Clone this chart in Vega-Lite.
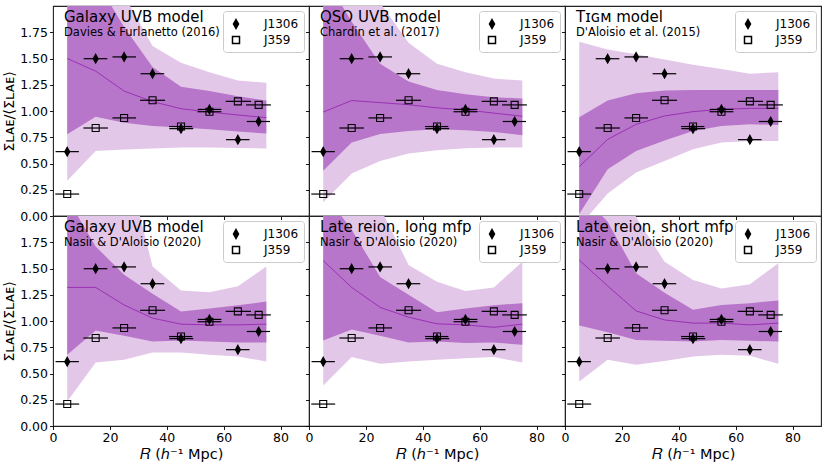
{
  "$schema": "https://vega.github.io/schema/vega-lite/v6.json",
  "background": "white",
  "padding": {"left": 1, "top": 5, "right": 7, "bottom": 3},
  "datasets": {
    "obs": [
      {"q": "J1306", "R": 5, "v": 0.613, "xlo": 0.9, "xhi": 9.1},
      {"q": "J1306", "R": 15, "v": 1.498, "xlo": 10.8, "xhi": 19.1},
      {"q": "J1306", "R": 25, "v": 1.515, "xlo": 20.9, "xhi": 29.2},
      {"q": "J1306", "R": 35, "v": 1.355, "xlo": 30.8, "xhi": 39.1},
      {"q": "J1306", "R": 45, "v": 0.832, "xlo": 40.9, "xhi": 49.3},
      {"q": "J1306", "R": 55, "v": 1.015, "xlo": 50.9, "xhi": 59.2},
      {"q": "J1306", "R": 65, "v": 0.727, "xlo": 60.8, "xhi": 69.1},
      {"q": "J1306", "R": 72.3, "v": 0.9, "xlo": 68.1, "xhi": 76.3},
      {"q": "J359", "R": 5, "v": 0.209, "xlo": 0.8, "xhi": 9.2},
      {"q": "J359", "R": 15, "v": 0.838, "xlo": 10.7, "xhi": 19.3},
      {"q": "J359", "R": 25, "v": 0.934, "xlo": 20.9, "xhi": 29.2},
      {"q": "J359", "R": 35, "v": 1.102, "xlo": 30.6, "xhi": 39.4},
      {"q": "J359", "R": 45, "v": 0.852, "xlo": 40.8, "xhi": 49.0},
      {"q": "J359", "R": 55, "v": 0.993, "xlo": 50.8, "xhi": 59.2},
      {"q": "J359", "R": 65, "v": 1.092, "xlo": 60.7, "xhi": 69.6},
      {"q": "J359", "R": 72.3, "v": 1.058, "xlo": 67.9, "xhi": 76.6}
    ],
    "model": [
      {"p": "p1", "R": 5, "lo2": 0.335, "lo1": 0.778, "med": 1.5, "hi1": 2.6, "hi2": 3.5},
      {"p": "p1", "R": 15, "lo2": 0.62, "lo1": 0.946, "med": 1.38, "hi1": 2.25, "hi2": 3.0},
      {"p": "p1", "R": 25, "lo2": 0.633, "lo1": 0.889, "med": 1.19, "hi1": 1.8, "hi2": 2.1},
      {"p": "p1", "R": 35, "lo2": 0.642, "lo1": 0.858, "med": 1.089, "hi1": 1.42, "hi2": 1.62},
      {"p": "p1", "R": 45, "lo2": 0.652, "lo1": 0.842, "med": 1.022, "hi1": 1.23, "hi2": 1.46},
      {"p": "p1", "R": 55, "lo2": 0.652, "lo1": 0.826, "med": 0.99, "hi1": 1.19, "hi2": 1.37},
      {"p": "p1", "R": 65, "lo2": 0.648, "lo1": 0.804, "med": 0.962, "hi1": 1.14, "hi2": 1.29},
      {"p": "p1", "R": 75, "lo2": 0.642, "lo1": 0.785, "med": 0.937, "hi1": 1.1, "hi2": 1.27},
      {"p": "p2", "R": 5, "lo2": 0.13, "lo1": 0.43, "med": 0.99, "hi1": 2.3, "hi2": 3.0},
      {"p": "p2", "R": 15, "lo2": 0.405, "lo1": 0.7, "med": 1.1, "hi1": 1.85, "hi2": 2.5},
      {"p": "p2", "R": 25, "lo2": 0.525, "lo1": 0.78, "med": 1.08, "hi1": 1.45, "hi2": 2.03},
      {"p": "p2", "R": 35, "lo2": 0.595, "lo1": 0.81, "med": 1.06, "hi1": 1.28, "hi2": 1.65},
      {"p": "p2", "R": 45, "lo2": 0.627, "lo1": 0.826, "med": 1.03, "hi1": 1.2, "hi2": 1.45},
      {"p": "p2", "R": 55, "lo2": 0.646, "lo1": 0.816, "med": 1.01, "hi1": 1.16, "hi2": 1.37},
      {"p": "p2", "R": 65, "lo2": 0.652, "lo1": 0.8, "med": 0.98, "hi1": 1.13, "hi2": 1.31},
      {"p": "p2", "R": 75, "lo2": 0.652, "lo1": 0.77, "med": 0.95, "hi1": 1.12, "hi2": 1.29},
      {"p": "p3", "R": 5, "lo2": -0.1, "lo1": 0.02, "med": 0.47, "hi1": 0.94, "hi2": 1.66},
      {"p": "p3", "R": 15, "lo2": 0.215, "lo1": 0.446, "med": 0.73, "hi1": 1.1, "hi2": 1.585},
      {"p": "p3", "R": 25, "lo2": 0.415, "lo1": 0.62, "med": 0.873, "hi1": 1.17, "hi2": 1.54},
      {"p": "p3", "R": 35, "lo2": 0.525, "lo1": 0.72, "med": 0.953, "hi1": 1.196, "hi2": 1.49},
      {"p": "p3", "R": 45, "lo2": 0.636, "lo1": 0.81, "med": 0.994, "hi1": 1.2, "hi2": 1.44},
      {"p": "p3", "R": 55, "lo2": 0.7, "lo1": 0.858, "med": 1.016, "hi1": 1.2, "hi2": 1.4},
      {"p": "p3", "R": 65, "lo2": 0.715, "lo1": 0.873, "med": 1.025, "hi1": 1.2, "hi2": 1.354},
      {"p": "p3", "R": 75, "lo2": 0.715, "lo1": 0.867, "med": 1.025, "hi1": 1.2, "hi2": 1.37},
      {"p": "p4", "R": 5, "lo2": 0.234, "lo1": 0.678, "med": 1.32, "hi1": 2.17, "hi2": 3.0},
      {"p": "p4", "R": 15, "lo2": 0.605, "lo1": 0.91, "med": 1.32, "hi1": 1.71, "hi2": 3.0},
      {"p": "p4", "R": 25, "lo2": 0.63, "lo1": 0.86, "med": 1.153, "hi1": 1.44, "hi2": 2.6},
      {"p": "p4", "R": 35, "lo2": 0.7, "lo1": 0.805, "med": 1.027, "hi1": 1.26, "hi2": 1.52},
      {"p": "p4", "R": 45, "lo2": 0.7, "lo1": 0.814, "med": 0.97, "hi1": 1.09, "hi2": 1.29},
      {"p": "p4", "R": 55, "lo2": 0.678, "lo1": 0.805, "med": 0.963, "hi1": 1.12, "hi2": 1.274},
      {"p": "p4", "R": 65, "lo2": 0.662, "lo1": 0.795, "med": 0.963, "hi1": 1.15, "hi2": 1.33},
      {"p": "p4", "R": 75, "lo2": 0.615, "lo1": 0.795, "med": 0.97, "hi1": 1.185, "hi2": 1.52},
      {"p": "p5", "R": 5, "lo2": 0.386, "lo1": 0.814, "med": 1.575, "hi1": 2.23, "hi2": 3.0},
      {"p": "p5", "R": 15, "lo2": 0.656, "lo1": 0.92, "med": 1.32, "hi1": 1.87, "hi2": 2.8},
      {"p": "p5", "R": 25, "lo2": 0.593, "lo1": 0.86, "med": 1.13, "hi1": 1.42, "hi2": 2.08},
      {"p": "p5", "R": 35, "lo2": 0.615, "lo1": 0.795, "med": 1.036, "hi1": 1.25, "hi2": 1.534},
      {"p": "p5", "R": 45, "lo2": 0.63, "lo1": 0.805, "med": 0.973, "hi1": 1.084, "hi2": 1.375},
      {"p": "p5", "R": 55, "lo2": 0.646, "lo1": 0.79, "med": 0.963, "hi1": 1.12, "hi2": 1.286},
      {"p": "p5", "R": 65, "lo2": 0.656, "lo1": 0.795, "med": 0.94, "hi1": 1.15, "hi2": 1.32},
      {"p": "p5", "R": 75, "lo2": 0.605, "lo1": 0.773, "med": 0.97, "hi1": 1.17, "hi2": 1.565},
      {"p": "p6", "R": 5, "lo2": 0.425, "lo1": 0.957, "med": 1.58, "hi1": 2.23, "hi2": 3.0},
      {"p": "p6", "R": 15, "lo2": 0.63, "lo1": 0.894, "med": 1.334, "hi1": 1.945, "hi2": 2.8},
      {"p": "p6", "R": 25, "lo2": 0.583, "lo1": 0.82, "med": 1.096, "hi1": 1.454, "hi2": 1.99},
      {"p": "p6", "R": 35, "lo2": 0.62, "lo1": 0.811, "med": 1.01, "hi1": 1.27, "hi2": 1.565},
      {"p": "p6", "R": 45, "lo2": 0.662, "lo1": 0.805, "med": 0.98, "hi1": 1.106, "hi2": 1.39},
      {"p": "p6", "R": 55, "lo2": 0.678, "lo1": 0.82, "med": 0.98, "hi1": 1.153, "hi2": 1.31},
      {"p": "p6", "R": 65, "lo2": 0.668, "lo1": 0.811, "med": 0.963, "hi1": 1.17, "hi2": 1.35},
      {"p": "p6", "R": 75, "lo2": 0.593, "lo1": 0.805, "med": 0.98, "hi1": 1.195, "hi2": 1.55}
    ]
  },
  "columns": 3,
  "spacing": 0,
  "bounds": "flush",
  "resolve": {"scale": {"shape": "independent", "fill": "independent"}, "legend": {"shape": "independent"}},
  "concat": [
    {
      "width": 256, "height": 210,
      "title": {"text": "Galaxy UVB model", "subtitle": "Davies & Furlanetto (2016)"},
      "layer": [
        {"data": {"name": "model"}, "transform": [{"filter": "datum.p == 'p1'"}],
         "mark": {"type": "area", "color": "#e3c7e9", "opacity": 1, "clip": true},
         "encoding": {
           "x": {"field": "R", "type": "quantitative", "scale": {"domain": [0, 90], "nice": false}, "axis": {"values": [0, 20, 40, 60, 80], "tickCount": 10, "labels": false, "title": null}},
           "y": {"field": "lo2", "type": "quantitative", "scale": {"domain": [0, 2], "nice": false}, "axis": {"values": [0, 0.25, 0.5, 0.75, 1, 1.25, 1.5, 1.75], "tickCount": 10, "format": ".2f", "title": "Σʟᴀᴇ/⟨Σʟᴀᴇ⟩"}},
           "y2": {"field": "hi2"}}},
        {"data": {"name": "model"}, "transform": [{"filter": "datum.p == 'p1'"}],
         "mark": {"type": "area", "color": "#b776c9", "opacity": 1, "clip": true},
         "encoding": {"x": {"field": "R", "type": "quantitative"}, "y": {"field": "lo1", "type": "quantitative"}, "y2": {"field": "hi1"}}},
        {"data": {"name": "model"}, "transform": [{"filter": "datum.p == 'p1'"}],
         "mark": {"type": "line", "color": "#9a31b6", "strokeWidth": 1, "clip": true},
         "encoding": {"x": {"field": "R", "type": "quantitative"}, "y": {"field": "med", "type": "quantitative"}}},
        {"data": {"name": "obs"},
         "mark": {"type": "rule", "color": "#000", "strokeWidth": 1.2},
         "encoding": {"x": {"field": "xlo", "type": "quantitative"}, "x2": {"field": "xhi"}, "y": {"field": "v", "type": "quantitative"}}},
        {"data": {"name": "obs"},
         "mark": {"type": "point", "filled": true, "stroke": "#000", "strokeWidth": 1.1, "size": 196, "opacity": 1},
         "encoding": {"x": {"field": "R", "type": "quantitative"}, "y": {"field": "v", "type": "quantitative"},
           "fill": {"field": "q", "type": "nominal", "scale": {"domain": ["J1306", "J359"], "range": ["#000", "transparent"]}, "legend": null},
           "shape": {"field": "q", "type": "nominal", "title": null, "scale": {"domain": ["J1306", "J359"], "range": ["M0,-0.64L0.36,0L0,0.64L-0.36,0Z", "M-0.5,-0.5H0.5V0.5H-0.5Z"]},
             "legend": {"title": null, "symbolSize": 196, "labelOffset": 20, "encode": {"symbols": {"shape": {"signal": "datum.value == 'J1306' ? 'M-0.29,0H1.71M0.71,-0.64L1.07,0L0.71,0.64L0.35,0Z' : 'M-0.29,0H1.71M0.21,-0.5H1.21V0.5H0.21Z'"}, "fill": {"signal": "datum.value == 'J1306' ? '#000' : 'transparent'"}, "stroke": {"value": "#000"}, "strokeWidth": {"value": 1.2}, "size": {"value": 196}, "opacity": {"value": 1}}}}}}}
      ]
    },
    {
      "width": 256, "height": 210,
      "title": {"text": "QSO UVB model", "subtitle": "Chardin et al. (2017)"},
      "layer": [
        {"data": {"name": "model"}, "transform": [{"filter": "datum.p == 'p2'"}],
         "mark": {"type": "area", "color": "#e3c7e9", "opacity": 1, "clip": true},
         "encoding": {
           "x": {"field": "R", "type": "quantitative", "scale": {"domain": [0, 90], "nice": false}, "axis": {"values": [0, 20, 40, 60, 80], "tickCount": 10, "labels": false, "title": null}},
           "y": {"field": "lo2", "type": "quantitative", "scale": {"domain": [0, 2], "nice": false}, "axis": {"values": [0, 0.25, 0.5, 0.75, 1, 1.25, 1.5, 1.75], "tickCount": 10, "labels": false, "title": null}},
           "y2": {"field": "hi2"}}},
        {"data": {"name": "model"}, "transform": [{"filter": "datum.p == 'p2'"}],
         "mark": {"type": "area", "color": "#b776c9", "opacity": 1, "clip": true},
         "encoding": {"x": {"field": "R", "type": "quantitative"}, "y": {"field": "lo1", "type": "quantitative"}, "y2": {"field": "hi1"}}},
        {"data": {"name": "model"}, "transform": [{"filter": "datum.p == 'p2'"}],
         "mark": {"type": "line", "color": "#9a31b6", "strokeWidth": 1, "clip": true},
         "encoding": {"x": {"field": "R", "type": "quantitative"}, "y": {"field": "med", "type": "quantitative"}}},
        {"data": {"name": "obs"},
         "mark": {"type": "rule", "color": "#000", "strokeWidth": 1.2},
         "encoding": {"x": {"field": "xlo", "type": "quantitative"}, "x2": {"field": "xhi"}, "y": {"field": "v", "type": "quantitative"}}},
        {"data": {"name": "obs"},
         "mark": {"type": "point", "filled": true, "stroke": "#000", "strokeWidth": 1.1, "size": 196, "opacity": 1},
         "encoding": {"x": {"field": "R", "type": "quantitative"}, "y": {"field": "v", "type": "quantitative"},
           "fill": {"field": "q", "type": "nominal", "scale": {"domain": ["J1306", "J359"], "range": ["#000", "transparent"]}, "legend": null},
           "shape": {"field": "q", "type": "nominal", "title": null, "scale": {"domain": ["J1306", "J359"], "range": ["M0,-0.64L0.36,0L0,0.64L-0.36,0Z", "M-0.5,-0.5H0.5V0.5H-0.5Z"]},
             "legend": {"title": null, "symbolSize": 196, "labelOffset": 20, "encode": {"symbols": {"shape": {"signal": "datum.value == 'J1306' ? 'M-0.29,0H1.71M0.71,-0.64L1.07,0L0.71,0.64L0.35,0Z' : 'M-0.29,0H1.71M0.21,-0.5H1.21V0.5H0.21Z'"}, "fill": {"signal": "datum.value == 'J1306' ? '#000' : 'transparent'"}, "stroke": {"value": "#000"}, "strokeWidth": {"value": 1.2}, "size": {"value": 196}, "opacity": {"value": 1}}}}}}}
      ]
    },
    {
      "width": 256, "height": 210,
      "title": {"text": "Tɪɢᴍ model", "subtitle": "D'Aloisio et al. (2015)"},
      "layer": [
        {"data": {"name": "model"}, "transform": [{"filter": "datum.p == 'p3'"}],
         "mark": {"type": "area", "color": "#e3c7e9", "opacity": 1, "clip": true},
         "encoding": {
           "x": {"field": "R", "type": "quantitative", "scale": {"domain": [0, 90], "nice": false}, "axis": {"values": [0, 20, 40, 60, 80], "tickCount": 10, "labels": false, "title": null}},
           "y": {"field": "lo2", "type": "quantitative", "scale": {"domain": [0, 2], "nice": false}, "axis": {"values": [0, 0.25, 0.5, 0.75, 1, 1.25, 1.5, 1.75], "tickCount": 10, "labels": false, "title": null}},
           "y2": {"field": "hi2"}}},
        {"data": {"name": "model"}, "transform": [{"filter": "datum.p == 'p3'"}],
         "mark": {"type": "area", "color": "#b776c9", "opacity": 1, "clip": true},
         "encoding": {"x": {"field": "R", "type": "quantitative"}, "y": {"field": "lo1", "type": "quantitative"}, "y2": {"field": "hi1"}}},
        {"data": {"name": "model"}, "transform": [{"filter": "datum.p == 'p3'"}],
         "mark": {"type": "line", "color": "#9a31b6", "strokeWidth": 1, "clip": true},
         "encoding": {"x": {"field": "R", "type": "quantitative"}, "y": {"field": "med", "type": "quantitative"}}},
        {"data": {"name": "obs"},
         "mark": {"type": "rule", "color": "#000", "strokeWidth": 1.2},
         "encoding": {"x": {"field": "xlo", "type": "quantitative"}, "x2": {"field": "xhi"}, "y": {"field": "v", "type": "quantitative"}}},
        {"data": {"name": "obs"},
         "mark": {"type": "point", "filled": true, "stroke": "#000", "strokeWidth": 1.1, "size": 196, "opacity": 1},
         "encoding": {"x": {"field": "R", "type": "quantitative"}, "y": {"field": "v", "type": "quantitative"},
           "fill": {"field": "q", "type": "nominal", "scale": {"domain": ["J1306", "J359"], "range": ["#000", "transparent"]}, "legend": null},
           "shape": {"field": "q", "type": "nominal", "title": null, "scale": {"domain": ["J1306", "J359"], "range": ["M0,-0.64L0.36,0L0,0.64L-0.36,0Z", "M-0.5,-0.5H0.5V0.5H-0.5Z"]},
             "legend": {"title": null, "symbolSize": 196, "labelOffset": 20, "encode": {"symbols": {"shape": {"signal": "datum.value == 'J1306' ? 'M-0.29,0H1.71M0.71,-0.64L1.07,0L0.71,0.64L0.35,0Z' : 'M-0.29,0H1.71M0.21,-0.5H1.21V0.5H0.21Z'"}, "fill": {"signal": "datum.value == 'J1306' ? '#000' : 'transparent'"}, "stroke": {"value": "#000"}, "strokeWidth": {"value": 1.2}, "size": {"value": 196}, "opacity": {"value": 1}}}}}}}
      ]
    },
    {
      "width": 256, "height": 210,
      "title": {"text": "Galaxy UVB model", "subtitle": "Nasir & D'Aloisio (2020)"},
      "layer": [
        {"data": {"name": "model"}, "transform": [{"filter": "datum.p == 'p4'"}],
         "mark": {"type": "area", "color": "#e3c7e9", "opacity": 1, "clip": true},
         "encoding": {
           "x": {"field": "R", "type": "quantitative", "scale": {"domain": [0, 90], "nice": false}, "axis": {"values": [0, 20, 40, 60, 80], "tickCount": 10, "format": "d", "title": "𝑅 (ℎ⁻¹ Mpc)"}},
           "y": {"field": "lo2", "type": "quantitative", "scale": {"domain": [0, 2], "nice": false}, "axis": {"values": [0, 0.25, 0.5, 0.75, 1, 1.25, 1.5, 1.75], "tickCount": 10, "format": ".2f", "title": "Σʟᴀᴇ/⟨Σʟᴀᴇ⟩"}},
           "y2": {"field": "hi2"}}},
        {"data": {"name": "model"}, "transform": [{"filter": "datum.p == 'p4'"}],
         "mark": {"type": "area", "color": "#b776c9", "opacity": 1, "clip": true},
         "encoding": {"x": {"field": "R", "type": "quantitative"}, "y": {"field": "lo1", "type": "quantitative"}, "y2": {"field": "hi1"}}},
        {"data": {"name": "model"}, "transform": [{"filter": "datum.p == 'p4'"}],
         "mark": {"type": "line", "color": "#9a31b6", "strokeWidth": 1, "clip": true},
         "encoding": {"x": {"field": "R", "type": "quantitative"}, "y": {"field": "med", "type": "quantitative"}}},
        {"data": {"name": "obs"},
         "mark": {"type": "rule", "color": "#000", "strokeWidth": 1.2},
         "encoding": {"x": {"field": "xlo", "type": "quantitative"}, "x2": {"field": "xhi"}, "y": {"field": "v", "type": "quantitative"}}},
        {"data": {"name": "obs"},
         "mark": {"type": "point", "filled": true, "stroke": "#000", "strokeWidth": 1.1, "size": 196, "opacity": 1},
         "encoding": {"x": {"field": "R", "type": "quantitative"}, "y": {"field": "v", "type": "quantitative"},
           "fill": {"field": "q", "type": "nominal", "scale": {"domain": ["J1306", "J359"], "range": ["#000", "transparent"]}, "legend": null},
           "shape": {"field": "q", "type": "nominal", "title": null, "scale": {"domain": ["J1306", "J359"], "range": ["M0,-0.64L0.36,0L0,0.64L-0.36,0Z", "M-0.5,-0.5H0.5V0.5H-0.5Z"]},
             "legend": {"title": null, "symbolSize": 196, "labelOffset": 20, "encode": {"symbols": {"shape": {"signal": "datum.value == 'J1306' ? 'M-0.29,0H1.71M0.71,-0.64L1.07,0L0.71,0.64L0.35,0Z' : 'M-0.29,0H1.71M0.21,-0.5H1.21V0.5H0.21Z'"}, "fill": {"signal": "datum.value == 'J1306' ? '#000' : 'transparent'"}, "stroke": {"value": "#000"}, "strokeWidth": {"value": 1.2}, "size": {"value": 196}, "opacity": {"value": 1}}}}}}}
      ]
    },
    {
      "width": 256, "height": 210,
      "title": {"text": "Late reion, long mfp", "subtitle": "Nasir & D'Aloisio (2020)"},
      "layer": [
        {"data": {"name": "model"}, "transform": [{"filter": "datum.p == 'p5'"}],
         "mark": {"type": "area", "color": "#e3c7e9", "opacity": 1, "clip": true},
         "encoding": {
           "x": {"field": "R", "type": "quantitative", "scale": {"domain": [0, 90], "nice": false}, "axis": {"values": [0, 20, 40, 60, 80], "tickCount": 10, "format": "d", "title": "𝑅 (ℎ⁻¹ Mpc)"}},
           "y": {"field": "lo2", "type": "quantitative", "scale": {"domain": [0, 2], "nice": false}, "axis": {"values": [0, 0.25, 0.5, 0.75, 1, 1.25, 1.5, 1.75], "tickCount": 10, "labels": false, "title": null}},
           "y2": {"field": "hi2"}}},
        {"data": {"name": "model"}, "transform": [{"filter": "datum.p == 'p5'"}],
         "mark": {"type": "area", "color": "#b776c9", "opacity": 1, "clip": true},
         "encoding": {"x": {"field": "R", "type": "quantitative"}, "y": {"field": "lo1", "type": "quantitative"}, "y2": {"field": "hi1"}}},
        {"data": {"name": "model"}, "transform": [{"filter": "datum.p == 'p5'"}],
         "mark": {"type": "line", "color": "#9a31b6", "strokeWidth": 1, "clip": true},
         "encoding": {"x": {"field": "R", "type": "quantitative"}, "y": {"field": "med", "type": "quantitative"}}},
        {"data": {"name": "obs"},
         "mark": {"type": "rule", "color": "#000", "strokeWidth": 1.2},
         "encoding": {"x": {"field": "xlo", "type": "quantitative"}, "x2": {"field": "xhi"}, "y": {"field": "v", "type": "quantitative"}}},
        {"data": {"name": "obs"},
         "mark": {"type": "point", "filled": true, "stroke": "#000", "strokeWidth": 1.1, "size": 196, "opacity": 1},
         "encoding": {"x": {"field": "R", "type": "quantitative"}, "y": {"field": "v", "type": "quantitative"},
           "fill": {"field": "q", "type": "nominal", "scale": {"domain": ["J1306", "J359"], "range": ["#000", "transparent"]}, "legend": null},
           "shape": {"field": "q", "type": "nominal", "title": null, "scale": {"domain": ["J1306", "J359"], "range": ["M0,-0.64L0.36,0L0,0.64L-0.36,0Z", "M-0.5,-0.5H0.5V0.5H-0.5Z"]},
             "legend": {"title": null, "symbolSize": 196, "labelOffset": 20, "encode": {"symbols": {"shape": {"signal": "datum.value == 'J1306' ? 'M-0.29,0H1.71M0.71,-0.64L1.07,0L0.71,0.64L0.35,0Z' : 'M-0.29,0H1.71M0.21,-0.5H1.21V0.5H0.21Z'"}, "fill": {"signal": "datum.value == 'J1306' ? '#000' : 'transparent'"}, "stroke": {"value": "#000"}, "strokeWidth": {"value": 1.2}, "size": {"value": 196}, "opacity": {"value": 1}}}}}}}
      ]
    },
    {
      "width": 256, "height": 210,
      "title": {"text": "Late reion, short mfp", "subtitle": "Nasir & D'Aloisio (2020)"},
      "layer": [
        {"data": {"name": "model"}, "transform": [{"filter": "datum.p == 'p6'"}],
         "mark": {"type": "area", "color": "#e3c7e9", "opacity": 1, "clip": true},
         "encoding": {
           "x": {"field": "R", "type": "quantitative", "scale": {"domain": [0, 90], "nice": false}, "axis": {"values": [0, 20, 40, 60, 80], "tickCount": 10, "format": "d", "title": "𝑅 (ℎ⁻¹ Mpc)"}},
           "y": {"field": "lo2", "type": "quantitative", "scale": {"domain": [0, 2], "nice": false}, "axis": {"values": [0, 0.25, 0.5, 0.75, 1, 1.25, 1.5, 1.75], "tickCount": 10, "labels": false, "title": null}},
           "y2": {"field": "hi2"}}},
        {"data": {"name": "model"}, "transform": [{"filter": "datum.p == 'p6'"}],
         "mark": {"type": "area", "color": "#b776c9", "opacity": 1, "clip": true},
         "encoding": {"x": {"field": "R", "type": "quantitative"}, "y": {"field": "lo1", "type": "quantitative"}, "y2": {"field": "hi1"}}},
        {"data": {"name": "model"}, "transform": [{"filter": "datum.p == 'p6'"}],
         "mark": {"type": "line", "color": "#9a31b6", "strokeWidth": 1, "clip": true},
         "encoding": {"x": {"field": "R", "type": "quantitative"}, "y": {"field": "med", "type": "quantitative"}}},
        {"data": {"name": "obs"},
         "mark": {"type": "rule", "color": "#000", "strokeWidth": 1.2},
         "encoding": {"x": {"field": "xlo", "type": "quantitative"}, "x2": {"field": "xhi"}, "y": {"field": "v", "type": "quantitative"}}},
        {"data": {"name": "obs"},
         "mark": {"type": "point", "filled": true, "stroke": "#000", "strokeWidth": 1.1, "size": 196, "opacity": 1},
         "encoding": {"x": {"field": "R", "type": "quantitative"}, "y": {"field": "v", "type": "quantitative"},
           "fill": {"field": "q", "type": "nominal", "scale": {"domain": ["J1306", "J359"], "range": ["#000", "transparent"]}, "legend": null},
           "shape": {"field": "q", "type": "nominal", "title": null, "scale": {"domain": ["J1306", "J359"], "range": ["M0,-0.64L0.36,0L0,0.64L-0.36,0Z", "M-0.5,-0.5H0.5V0.5H-0.5Z"]},
             "legend": {"title": null, "symbolSize": 196, "labelOffset": 20, "encode": {"symbols": {"shape": {"signal": "datum.value == 'J1306' ? 'M-0.29,0H1.71M0.71,-0.64L1.07,0L0.71,0.64L0.35,0Z' : 'M-0.29,0H1.71M0.21,-0.5H1.21V0.5H0.21Z'"}, "fill": {"signal": "datum.value == 'J1306' ? '#000' : 'transparent'"}, "stroke": {"value": "#000"}, "strokeWidth": {"value": 1.2}, "size": {"value": 196}, "opacity": {"value": 1}}}}}}}
      ]
    }
  ],
  "config": {
    "font": "DejaVu Sans",
    "view": {"stroke": "#222", "strokeWidth": 1.1},
    "axis": {"domain": false, "grid": false, "tickColor": "#000", "tickSize": 3.5, "tickWidth": 0.9, "labelFontSize": 12.5, "labelColor": "#000", "labelPadding": 2, "labelOverlap": false, "labelFlush": false, "titleFontSize": 14.5, "titleFontWeight": "normal", "titleColor": "#000", "titlePadding": 3},
    "legend": {"orient": "top-right", "offset": 5, "padding": 5, "fillColor": "rgba(255,255,255,0.85)", "strokeColor": "#cccccc", "cornerRadius": 3, "labelFontSize": 12, "labelColor": "#000", "rowPadding": 0},
    "title": {"anchor": "start", "frame": "group", "orient": "top", "offset": -32, "dx": 11, "fontSize": 15, "fontWeight": "normal", "color": "#000", "subtitleFontSize": 11.5, "subtitleColor": "#000", "subtitlePadding": 2}
  }
}
